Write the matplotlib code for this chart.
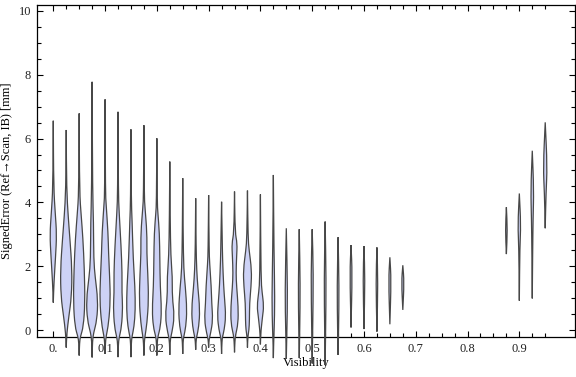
import numpy as np
import matplotlib as mpl
import matplotlib.pyplot as plt
from matplotlib.path import Path
from matplotlib.patches import PathPatch
from matplotlib.ticker import FixedLocator, FixedFormatter

mpl.rcParams['font.family'] = ['Liberation Serif', 'DejaVu Serif']

# violin positions (visibility), top / bottom of each violin
positions = [0.000, 0.025, 0.050, 0.075, 0.100, 0.125, 0.150, 0.175, 0.200, 0.225,
             0.250, 0.275, 0.300, 0.325, 0.350, 0.375, 0.400, 0.425, 0.450, 0.475,
             0.500, 0.525, 0.550, 0.575, 0.600, 0.625, 0.650, 0.675,
             0.875, 0.900, 0.925, 0.950]
tops = [6.56, 6.27, 6.79, 7.78, 7.23, 6.84, 6.29, 6.42, 6.01, 5.28,
        4.76, 4.13, 4.23, 4.02, 4.34, 4.37, 4.25, 4.86, 3.19, 3.16,
        3.16, 3.40, 2.91, 2.66, 2.63, 2.59, 2.28, 2.03,
        3.85, 4.28, 5.62, 6.51]
bottoms = [0.86, -0.55, -0.80, -0.86, -0.75, -0.85, -0.85, -0.80, -0.80, -0.78,
           -0.75, -0.62, -0.55, -0.75, -0.70, -0.55, -0.45, -0.88, -0.90, -0.88,
           -1.05, -1.10, -0.78, 0.08, 0.03, -0.05, 0.18, 0.63,
           2.38, 0.92, 0.99, 3.19]
# density profile of each violin: (error value, half width)
profiles = [
    [(4.45, 0.4), (3.65, 2.0), (3.0, 3.4), (2.3, 2.3), (1.5, 0.7)],
    [(4.4, 0.4), (3.55, 2.0), (2.9, 3.6), (1.9, 5.8), (1.05, 5.3), (0.42, 2.6), (-0.1, 0.6)],
    [(4.3, 0.4), (3.6, 2.0), (2.9, 3.7), (1.9, 5.2), (0.85, 5.8), (0.1, 4.2), (-0.21, 1.2), (-0.4, 0.4)],
    [(4.3, 0.5), (3.4, 1.4), (2.2, 1.6), (1.67, 3.0), (0.94, 5.8), (0.31, 4.8), (-0.1, 1.4), (-0.35, 0.4)],
    [(4.3, 0.4), (3.97, 1.0), (3.04, 3.0), (2.41, 3.5), (1.67, 4.6), (0.94, 5.3), (0.21, 3.6), (-0.21, 1.0), (-0.4, 0.4)],
    [(4.3, 0.4), (3.76, 1.0), (2.61, 3.1), (1.78, 4.1), (1.15, 3.9), (0.73, 4.7), (0.1, 3.6), (-0.25, 1.0), (-0.45, 0.4)],
    [(4.0, 0.4), (3.55, 1.0), (2.19, 2.3), (1.36, 4.0), (0.63, 4.4), (0.1, 3.1), (-0.21, 1.0), (-0.4, 0.4)],
    [(4.2, 0.4), (3.87, 1.0), (3.04, 3.1), (2.41, 2.9), (1.78, 3.9), (0.94, 4.7), (0.21, 3.1), (-0.21, 1.0), (-0.4, 0.4)],
    [(4.0, 0.4), (3.67, 1.0), (3.04, 2.6), (2.19, 3.0), (1.36, 3.4), (0.63, 4.7), (0.1, 3.6), (-0.21, 1.0), (-0.4, 0.4)],
    [(3.5, 0.4), (2.3, 1.0), (1.67, 2.6), (1.04, 2.4), (0.42, 4.7), (-0.1, 2.0), (-0.3, 0.4)],
    [(3.0, 0.4), (1.88, 1.0), (1.36, 2.6), (0.63, 4.2), (0.1, 3.1), (-0.21, 1.0), (-0.35, 0.4)],
    [(2.6, 0.4), (1.88, 1.0), (1.36, 2.1), (0.63, 4.2), (0.1, 3.1), (-0.21, 1.0), (-0.35, 0.4)],
    [(2.5, 0.5), (2.09, 1.0), (1.36, 2.6), (0.84, 3.1), (0.31, 4.2), (-0.1, 2.0), (-0.3, 0.4)],
    [(2.93, 0.6), (2.19, 1.0), (1.36, 2.1), (0.94, 3.1), (0.42, 4.2), (0.0, 2.6), (-0.2, 1.0), (-0.35, 0.4)],
    [(3.04, 0.6), (2.72, 2.7), (2.3, 2.1), (1.78, 1.5), (1.36, 2.1), (0.73, 3.7), (0.21, 3.6), (-0.16, 1.0), (-0.35, 0.4)],
    [(2.9, 0.6), (2.51, 1.6), (1.88, 4.2), (1.36, 3.6), (0.84, 2.1), (0.31, 2.0), (0.0, 1.5), (-0.2, 0.4)],
    [(1.6, 0.6), (1.2, 1.6), (0.75, 3.4), (0.42, 2.1), (0.1, 1.0), (-0.1, 0.4)],
    [(2.5, 0.6), (0.94, 1.5), (0.0, 0.8), (-0.3, 0.4)],
    [(1.15, 1.3), (0.0, 0.6)],
    [(1.4, 1.0), (0.0, 0.5)],
    [(1.78, 1.2), (0.0, 0.5)],
    [(1.57, 1.0), (0.0, 0.5)],
    [(1.36, 1.0), (0.0, 0.5)],
    [(1.78, 1.2)],
    [(1.6, 1.0)],
    [(1.5, 1.0)],
    [(1.57, 1.3)],
    [(1.5, 1.3)],
    [(3.13, 1.0)],
    [(3.29, 1.5), (2.6, 0.5)],
    [(4.39, 1.5), (3.5, 0.8), (2.5, 0.4)],
    [(5.12, 2.0), (4.3, 0.8)],
]

x_major = [0.0, 0.1, 0.2, 0.3, 0.4, 0.5, 0.6, 0.7, 0.8, 0.9]
x_labels = ['0.', '0.1', '0.2', '0.3', '0.4', '0.5', '0.6', '0.7', '0.8', '0.9']
y_major = [0, 2, 4, 6, 8, 10]

w_scale = 1 / 518.0  # half width units -> visibility units


def side_path(pts):
    # smooth outline through one side: straight tips, rounded bulges
    verts = [pts[0]]
    codes = [Path.LINETO]
    mids = [((pts[i][0] + pts[i + 1][0]) / 2, (pts[i][1] + pts[i + 1][1]) / 2)
            for i in range(len(pts) - 1)]
    verts.append(mids[0])
    codes.append(Path.LINETO)
    for i in range(1, len(pts) - 1):
        verts += [pts[i], mids[i]]
        codes += [Path.CURVE3, Path.CURVE3]
    verts.append(pts[-1])
    codes.append(Path.LINETO)
    return verts, codes


fig = plt.figure(figsize=(5.76, 3.77), dpi=100)
ax = fig.add_axes([36.5 / 576, 40 / 377, 538.5 / 576, 332.3 / 377])

for pos, top, bot, prof in zip(positions, tops, bottoms, profiles):
    ys = [top] + [p[0] for p in prof] + [bot]
    ws = [0.0] + [p[1] * w_scale for p in prof] + [0.0]
    right = [(pos + w, y) for w, y in zip(ws, ys)]
    left = [(pos - w, y) for w, y in zip(ws, ys)][::-1]
    v1, c1 = side_path(right)
    v2, c2 = side_path(left)
    c1[0] = Path.MOVETO
    verts = v1 + v2 + [right[0]]
    codes = c1 + c2 + [Path.CLOSEPOLY]
    ax.add_patch(PathPatch(Path(verts, codes), facecolor='#cdd2f6',
                           edgecolor='#474747', lw=0.9, clip_on=False, zorder=3))

ax.set_xlim(-0.0324, 1.0075)
ax.set_ylim(-0.219, 10.197)

ax.xaxis.set_major_locator(FixedLocator(x_major))
ax.xaxis.set_major_formatter(FixedFormatter(x_labels))
ax.xaxis.set_minor_locator(FixedLocator([i * 0.025 for i in range(39)]))
ax.yaxis.set_major_locator(FixedLocator(y_major))
ax.yaxis.set_minor_locator(FixedLocator([i * 0.5 for i in range(21)]))

ax.tick_params(which='both', direction='in', top=True, right=True,
               width=0.8, color='black', labelsize=9, labelcolor='#222222')
ax.tick_params(which='major', length=4.5, pad=4)
ax.tick_params(which='minor', length=2.8)
for s in ax.spines.values():
    s.set_linewidth(0.9)

ax.set_xlabel('Visibility', fontsize=9, labelpad=2)
ax.set_ylabel('SignedError (Ref\u2192Scan, IB) [mm]', fontsize=9, labelpad=4)

fig.savefig('out.png', dpi=100)
